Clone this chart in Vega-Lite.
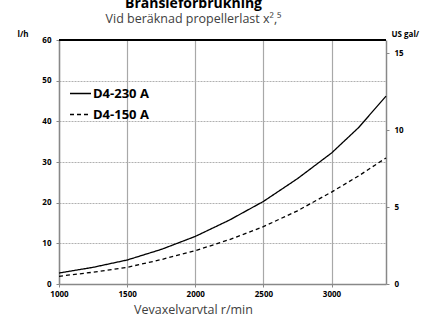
{
  "$schema": "https://vega.github.io/schema/vega-lite/v6.json",
  "autosize": {"type": "none"},
  "width": 327,
  "height": 244,
  "padding": {"left": 59, "top": 40, "right": 36, "bottom": 34},
  "background": "white",
  "config": {
    "view": {"stroke": null},
    "font": "Open Sans"
  },
  "title": {
    "text": "Bränsleförbrukning",
    "subtitle": "Vid beräknad propellerlast x²,⁵",
    "anchor": "middle",
    "dx": -29,
    "offset": 5,
    "font": "Open Sans",
    "fontSize": 14,
    "fontWeight": "bold",
    "color": "#000000",
    "subtitleFont": "Open Sans",
    "subtitleFontSize": 12.5,
    "subtitleColor": "#404040",
    "subtitlePadding": 2
  },
  "data": {
    "values": [
      {"rpm": 1000, "lh": 2.7, "series": "D4-230 A"},
      {"rpm": 1250, "lh": 4.1, "series": "D4-230 A"},
      {"rpm": 1500, "lh": 5.9, "series": "D4-230 A"},
      {"rpm": 1750, "lh": 8.5, "series": "D4-230 A"},
      {"rpm": 2000, "lh": 11.7, "series": "D4-230 A"},
      {"rpm": 2250, "lh": 15.7, "series": "D4-230 A"},
      {"rpm": 2500, "lh": 20.3, "series": "D4-230 A"},
      {"rpm": 2750, "lh": 25.9, "series": "D4-230 A"},
      {"rpm": 3000, "lh": 32.2, "series": "D4-230 A"},
      {"rpm": 3200, "lh": 38.5, "series": "D4-230 A"},
      {"rpm": 3400, "lh": 46.2, "series": "D4-230 A"},
      {"rpm": 1000, "lh": 1.9, "series": "D4-150 A"},
      {"rpm": 1250, "lh": 2.9, "series": "D4-150 A"},
      {"rpm": 1500, "lh": 4.1, "series": "D4-150 A"},
      {"rpm": 1750, "lh": 6.0, "series": "D4-150 A"},
      {"rpm": 2000, "lh": 8.2, "series": "D4-150 A"},
      {"rpm": 2250, "lh": 10.9, "series": "D4-150 A"},
      {"rpm": 2500, "lh": 14.1, "series": "D4-150 A"},
      {"rpm": 2750, "lh": 18.0, "series": "D4-150 A"},
      {"rpm": 3000, "lh": 22.6, "series": "D4-150 A"},
      {"rpm": 3200, "lh": 26.6, "series": "D4-150 A"},
      {"rpm": 3400, "lh": 31.0, "series": "D4-150 A"}
    ]
  },
  "layer": [
    {
      "layer": [
        {
          "mark": {"type": "line", "color": "#000000", "strokeWidth": 1.3},
          "encoding": {
            "x": {
              "field": "rpm",
              "type": "quantitative",
              "scale": {"domain": [1000, 3400], "nice": false, "zero": false},
              "axis": {
                "values": [1000, 1500, 2000, 2500, 3000],
                "format": "d",
                "title": "Vevaxelvarvtal r/min",
                "titleFont": "Open Sans",
                "titleFontSize": 12.5,
                "titleFontWeight": "normal",
                "titleColor": "#404040",
                "titleAnchor": null,
                "titleAlign": "center",
                "titleBaseline": "alphabetic",
                "titleX": 134,
                "titleY": 29,
                "labelFont": "Open Sans",
                "labelFontSize": 8,
                "labelFontWeight": "bold",
                "labelColor": "#000000",
                "labelPadding": 3,
                "labelFlush": false,
                "tickSize": 3,
                "tickColor": "#888888",
                "domainColor": "#888888",
                "domainWidth": 1.5,
                "grid": true,
                "gridColor": "#a8a8a8",
                "gridWidth": 1.2
              }
            },
            "y": {
              "field": "lh",
              "type": "quantitative",
              "scale": {"domain": [0, 60], "nice": false},
              "axis": {
                "values": [0, 10, 20, 30, 40, 50, 60],
                "title": "l/h",
                "titleAngle": 0,
                "titleAnchor": null,
                "titleAlign": "left",
                "titleBaseline": "alphabetic",
                "titleX": -42,
                "titleY": -4,
                "titleFont": "Open Sans",
                "titleFontSize": 8,
                "titleFontWeight": "bold",
                "titleColor": "#000000",
                "labelFont": "Open Sans",
                "labelFontSize": 8,
                "labelFontWeight": "bold",
                "labelColor": "#000000",
                "labelPadding": 5,
                "tickSize": 3,
                "tickColor": "#888888",
                "domainColor": "#888888",
                "domainWidth": 1.5,
                "grid": true,
                "gridColor": "#b0b0b0",
                "gridDash": [2, 1],
                "gridWidth": 1
              }
            },
            "detail": {"field": "series"},
            "strokeDash": {
              "field": "series",
              "type": "nominal",
              "scale": {"domain": ["D4-230 A", "D4-150 A"], "range": [[1, 0], [4, 3]]},
              "legend": {
                "title": null,
                "orient": "none",
                "legendX": 10,
                "legendY": 42,
                "symbolType": "stroke",
                "symbolSize": 441,
                "symbolStrokeColor": "#000000",
                "symbolStrokeWidth": 1.3,
                "labelFont": "Open Sans",
                "labelFontSize": 13,
                "labelFontWeight": "bold",
                "labelColor": "#000000",
                "labelOffset": 1,
                "rowPadding": 2
              }
            }
          }
        },
        {
          "mark": {"type": "rule", "color": "#000000", "strokeWidth": 1.5},
          "encoding": {"y": {"datum": 60, "type": "quantitative"}}
        }
      ]
    },
    {
      "mark": {"type": "point", "opacity": 0},
      "encoding": {
        "y": {
          "datum": 0,
          "type": "quantitative",
          "scale": {"domain": [0, 15.85], "nice": false},
          "axis": {
            "orient": "right",
            "values": [0, 5, 10, 15],
            "title": "US gal/",
            "titleAngle": 0,
            "titleAnchor": null,
            "titleAlign": "left",
            "titleBaseline": "alphabetic",
            "titleX": 5,
            "titleY": -4,
            "titleFont": "Open Sans",
            "titleFontSize": 8,
            "titleFontWeight": "bold",
            "titleColor": "#000000",
            "labelFont": "Open Sans",
            "labelFontSize": 8,
            "labelFontWeight": "bold",
            "labelColor": "#000000",
            "labelPadding": 5,
            "tickSize": 3,
            "tickColor": "#888888",
            "domainColor": "#888888",
            "domainWidth": 1.5,
            "grid": false
          }
        }
      }
    }
  ],
  "resolve": {"scale": {"y": "independent"}, "axis": {"y": "independent"}}
}
